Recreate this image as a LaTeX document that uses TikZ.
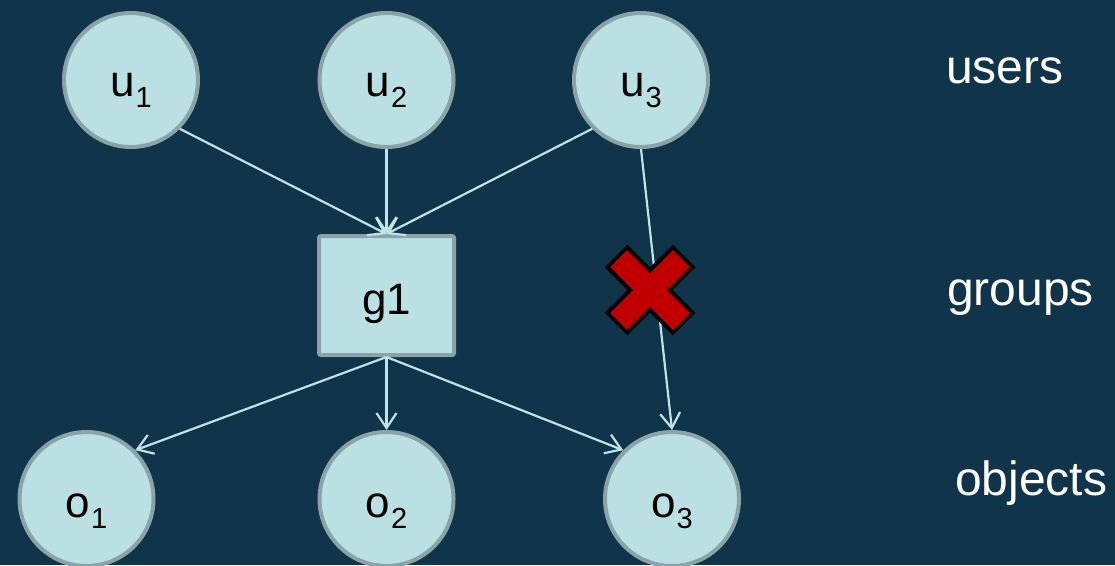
\documentclass[tikz,border=0pt]{standalone}
\usepackage{fontspec}
\setmainfont{Liberation Sans}
\usetikzlibrary{arrows.meta}
\definecolor{bg}{HTML}{10344A}
\definecolor{nodefill}{HTML}{BBE0E4}
\definecolor{nodeedge}{HTML}{8AA3A7}
\definecolor{edgecol}{HTML}{BFE3E6}
\definecolor{crossred}{HTML}{C00000}
% letter with a lowered index
\newcommand\idx[2]{#1\kern1pt\raisebox{-11pt}{\fontsize{29}{32}\selectfont #2}}
\begin{document}
\begin{tikzpicture}[x=1pt,y=-1pt,
  vertex/.style={circle, draw=nodeedge, fill=nodefill, line width=4pt,
    minimum size=134pt, inner sep=0pt, text height=0pt, text depth=0pt,
    font=\fontsize{44}{52}\selectfont},
  groupbox/.style={rectangle, rounded corners=2pt, draw=nodeedge, fill=nodefill,
    line width=4pt, minimum width=135pt, minimum height=119pt, inner sep=0pt,
    text height=0pt, text depth=0pt, font=\fontsize{44}{52}\selectfont},
  layer/.style={anchor=base west, text=white, inner sep=0pt,
    font=\fontsize{48}{56}\selectfont},
  arr/.style={draw=edgecol, line width=2.2pt,
    -{Straight Barb[length=15pt,width=20pt,line width=2.2pt]}}
]
\useasboundingbox (0,0) rectangle (1115,565);
\fill[bg] (0,0) rectangle (1115,565);

% users
\node[vertex] (u1) at (131,80)   {\raisebox{-16pt}{\idx{u}{1}}};
\node[vertex] (u2) at (386.5,80) {\raisebox{-16pt}{\idx{u}{2}}};
\node[vertex] (u3) at (641,80)   {\raisebox{-16pt}{\idx{u}{3}}};

% group
\node[groupbox] (g1) at (386.5,295.5) {\raisebox{-19pt}{g1}};

% objects
\node[vertex] (o1) at (86.5,499)  {\raisebox{-18pt}{\idx{o}{1}}};
\node[vertex] (o2) at (386.5,499) {\raisebox{-18pt}{\idx{o}{2}}};
\node[vertex] (o3) at (672,499)   {\raisebox{-18pt}{\idx{o}{3}}};

% layer names
\node[layer] (lu) at (946,83)  {users};
\node[layer] (lg) at (947,305) {groups};
\node[layer] (lo) at (955,495) {objects};

% membership and permission edges
\draw[arr] (u1.-45)  -- (g1.north);
\draw[arr] (u2.south) -- (g1.north);
\draw[arr] (u3.-135) -- (g1.north);
\draw[arr] (u3.south) -- (o3.north);
\draw[arr] (g1.south) -- (o1.45);
\draw[arr] (g1.south) -- (o2.north);
\draw[arr] (g1.south) -- (o3.135);

% denied direct link
\begin{scope}[line cap=butt]
  \draw[black, line width=32pt] (616,256) -- (684,324);
  \draw[black, line width=32pt] (684,256) -- (616,324);
  \draw[crossred, line width=24pt] (618.5,258.5) -- (681.5,321.5);
  \draw[crossred, line width=24pt] (681.5,258.5) -- (618.5,321.5);
\end{scope}
\end{tikzpicture}
\end{document}
